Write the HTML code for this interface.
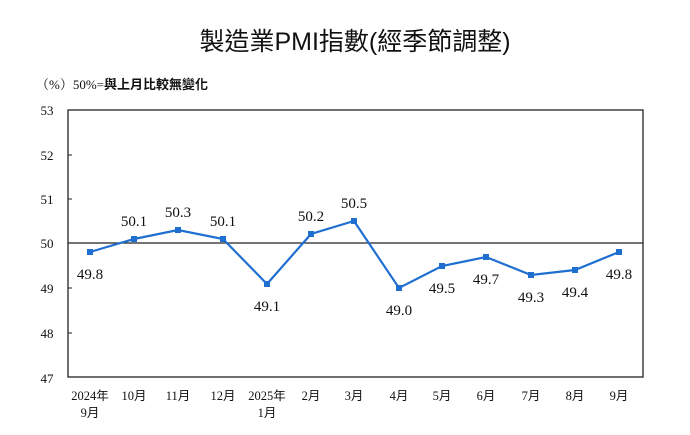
<!DOCTYPE html><html><head><meta charset="utf-8"><style>body{margin:0;background:#fff;}svg{display:block}</style></head><body>
<svg width="690" height="435" xmlns="http://www.w3.org/2000/svg" font-family="'Liberation Serif','Noto Serif CJK SC',serif">
<text x="355" y="50" text-anchor="middle" font-size="25" font-family="'Liberation Sans','Noto Sans CJK TC',sans-serif" fill="#111">製造業PMI指數(經季節調整)</text>
<text x="36" y="89" font-size="13" fill="#111">（%）50%=<tspan font-family="'Noto Sans CJK TC',sans-serif" font-weight="bold">與上月比較無變化</tspan></text>
<rect x="68" y="110" width="575" height="267" fill="none" stroke="#222" stroke-width="1.3"/>
<line x1="68" y1="243" x2="643" y2="243" stroke="#222" stroke-width="1.3"/>
<g stroke="#222" stroke-width="1"><line x1="68" y1="155" x2="72" y2="155"/><line x1="68" y1="199" x2="72" y2="199"/><line x1="68" y1="288" x2="72" y2="288"/><line x1="68" y1="333" x2="72" y2="333"/></g>
<g font-size="13" fill="#111" text-anchor="middle">
<text x="47" y="115">53</text><text x="47" y="160">52</text><text x="47" y="204">51</text><text x="47" y="248">50</text><text x="47" y="293">49</text><text x="47" y="338">48</text><text x="47" y="383">47</text>
</g>
<g font-size="12.5" fill="#111" text-anchor="middle" font-family="'Liberation Serif','Noto Sans CJK TC',serif">
<text x="90" y="400">2024年</text><text x="90" y="417">9月</text>
<text x="134" y="400">10月</text><text x="178" y="400">11月</text><text x="223" y="400">12月</text>
<text x="267" y="400">2025年</text><text x="267" y="417">1月</text>
<text x="311" y="400">2月</text><text x="354" y="400">3月</text><text x="399" y="400">4月</text><text x="442" y="400">5月</text><text x="486" y="400">6月</text><text x="531" y="400">7月</text><text x="575" y="400">8月</text><text x="619" y="400">9月</text>
</g>
<polyline fill="none" stroke="#1f6fd1" stroke-width="2.2" points="90,252 134,239 178,230 223,239 267,284 311,234 354,221 399,288 442,266 486,257 531,275 575,270 619,252"/>
<g fill="#1f6fd1">
<rect x="87" y="249" width="6" height="6"/><rect x="131" y="236" width="6" height="6"/><rect x="175" y="227" width="6" height="6"/><rect x="220" y="236" width="6" height="6"/><rect x="264" y="281" width="6" height="6"/><rect x="308" y="231" width="6" height="6"/><rect x="351" y="218" width="6" height="6"/><rect x="396" y="285" width="6" height="6"/><rect x="439" y="263" width="6" height="6"/><rect x="483" y="254" width="6" height="6"/><rect x="528" y="272" width="6" height="6"/><rect x="572" y="267" width="6" height="6"/><rect x="616" y="249" width="6" height="6"/>
</g>
<g font-size="15" fill="#111" text-anchor="middle">
<text x="90" y="279">49.8</text><text x="134" y="226">50.1</text><text x="178" y="217">50.3</text><text x="223" y="226">50.1</text><text x="267" y="311">49.1</text><text x="311" y="221">50.2</text><text x="354" y="208">50.5</text><text x="399" y="315">49.0</text><text x="442" y="293">49.5</text><text x="486" y="284">49.7</text><text x="531" y="302">49.3</text><text x="575" y="297">49.4</text><text x="619" y="279">49.8</text>
</g>
</svg>
</body></html>
